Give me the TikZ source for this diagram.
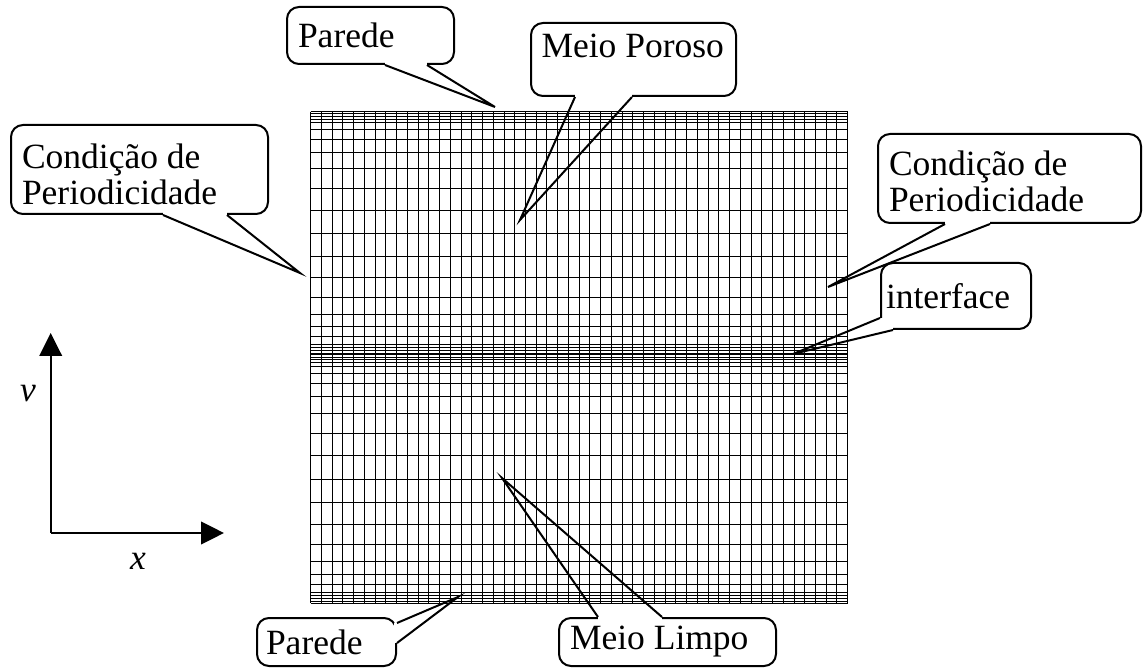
\documentclass[tikz,border=0pt]{standalone}
\usepackage{fontspec}
\setmainfont{Liberation Serif}
\usetikzlibrary{calc,arrows.meta}
\tikzset{
  callout/.style={draw, line width=1pt, rounded corners=6pt, anchor=north west,
    inner xsep=5.5pt, inner ysep=0pt, align=flush left,
    font=\fontsize{17.75pt}{18pt}\selectfont},
  wedgeline/.style={line width=1pt, line join=miter},
  gapfill/.style={fill=white},
  meshline/.style={line width=0.5pt},
  axisline/.style={line width=1pt, -{Triangle[length=11.5pt,width=11.3pt]}},
  axislabel/.style={font=\fontsize{17.75pt}{18pt}\selectfont\itshape, inner sep=0pt}
}
\begin{document}
\begin{tikzpicture}[x=0.5pt,y=-0.5pt]
\useasboundingbox (0,0) rectangle (1147,668);

% ---- mesh ----
\foreach \k in {0,...,50}
  \draw[meshline] ({310.7+10.74*\k},111.7) -- ({310.7+10.74*\k},603.3);
\foreach \g in {0,.0082,.0177,.0312,.0452,.0740,.1163,.1669,.2355,.3165,.4053,.5,
                .5947,.6835,.7645,.8331,.8837,.9260,.9548,.9688,.9823,.9918,1}{
  \draw[meshline] (310.7,{111.7+243.3*\g}) -- (847.7,{111.7+243.3*\g});
  \draw[meshline] (310.7,{355+248.3*\g}) -- (847.7,{355+248.3*\g});
}

% ---- axes ----
\coordinate (O) at (50.7,533);
\coordinate (Ytip) at (50.7,333);
\coordinate (Xtip) at (224,533);
\draw[axisline] (O) -- (Ytip);
\draw[axisline] (O) -- (Xtip);
\node[axislabel] (vlab) at (28,394) {v};
\node[axislabel] (xlab) at (138,561.5) {x};

% ---- callouts ----
\node[callout, minimum width=83.5pt, minimum height=28.5pt, text width=72.5pt] (A) at (286,6) {Parede};
\node[callout, inner xsep=5.25pt, minimum width=102.5pt, minimum height=36.5pt, text width=92pt] (B) at (530,22) {Meio Poroso\rule[-13.5pt]{0pt}{13.5pt}};
\node[callout, minimum width=128.5pt, minimum height=44.5pt, text width=117.5pt] (C) at (10,124) {\rule{0pt}{17.2pt}Condição de\\Periodicidade};
\node[callout, minimum width=131.5pt, minimum height=44.5pt, text width=120.5pt] (D) at (877,133) {\rule{0pt}{15pt}Condição de\\Periodicidade};
\node[callout, inner xsep=2.5pt, minimum width=75pt, minimum height=33pt, text width=70pt] (E) at (880,262) {interface};
\node[callout, inner xsep=4.5pt, minimum width=69.5pt, minimum height=24pt, text width=60.5pt] (F) at (256,617) {Parede};
\node[callout, minimum width=108.5pt, minimum height=24pt, text width=97.5pt] (G) at (558,617) {Meio Limpo};

% tips
\coordinate (tA) at (495,107);
\coordinate (tB) at (520,220);
\coordinate (tC) at (300,273);
\coordinate (tD) at (828,287);
\coordinate (tE) at (793,354);
\coordinate (tF) at (458,597);
\coordinate (tG) at (502,478);

% base points
\coordinate (A1) at ($(A.south west)+(99,0)$);  \coordinate (A2) at ($(A.south west)+(141,0)$);
\coordinate (B1) at ($(B.south west)+(45,0)$);  \coordinate (B2) at ($(B.south west)+(102,0)$);
\coordinate (C1) at ($(C.south west)+(153,0)$); \coordinate (C2) at ($(C.south west)+(217,0)$);
\coordinate (D1) at ($(D.south west)+(68,0)$);  \coordinate (D2) at ($(D.south west)+(113,0)$);
\coordinate (E1) at ($(E.south west)+(0,-12)$); \coordinate (E2) at ($(E.south west)+(13,0)$);
\coordinate (F1) at ($(F.north east)+(0,6)$);   \coordinate (F2) at ($(F.north east)+(0,26)$);
\coordinate (G1) at ($(G.north west)+(40,0)$);  \coordinate (G2) at ($(G.north west)+(104,0)$);

% gaps in the box outlines
\foreach \p/\q in {A1/A2,B1/B2,C1/C2,D1/D2,G1/G2}
  \fill[gapfill] ($(\p)+(0,-3)$) rectangle ($(\q)+(0,3)$);
\fill[gapfill] ($(E1)+(-3,0)$) rectangle ($(E2)+(0,3)$);
\fill[gapfill] ($(F1)+(-3,0)$) rectangle ($(F2)+(3,0)$);

% wedges
\draw[wedgeline] (A1) -- (tA) -- (A2);
\draw[wedgeline] (B1) -- (tB) -- (B2);
\draw[wedgeline] (C1) -- (tC) -- (C2);
\draw[wedgeline] (D1) -- (tD) -- (D2);
\draw[wedgeline] (E1) -- (tE) -- (E2);
\draw[wedgeline] (F1) -- (tF) -- (F2);
\draw[wedgeline] (G1) -- (tG) -- (G2);
\end{tikzpicture}
\end{document}
